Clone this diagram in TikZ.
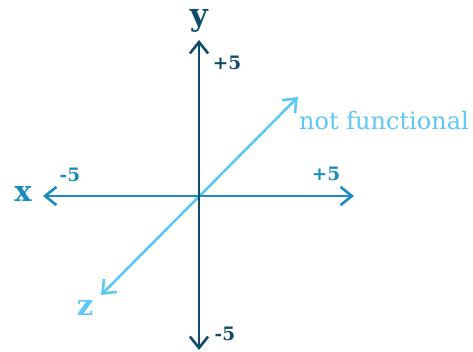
\documentclass[tikz,border=0pt]{standalone}
\usepackage{fontspec}
\setmainfont{DejaVu Serif}
\usetikzlibrary{positioning,arrows.meta}
\definecolor{ydark}{HTML}{0F4C69}
\definecolor{xmid}{HTML}{1A8CC0}
\definecolor{zlight}{HTML}{5CC8F6}
\tikzset{
  % --- axes ------------------------------------------------------------------
  axisline/.style={line width=2.6pt,
                   {Straight Barb[length=4mm,width=6.4mm]}-{Straight Barb[length=4mm,width=6.4mm]}},
  yaxis/.style={axisline,ydark},
  xaxis/.style={axisline,xmid},
  zaxis/.style={axisline,zlight},
  % --- labels ----------------------------------------------------------------
  axname/.style={inner sep=0pt,anchor=base,font=\fontsize{29}{29}\selectfont\bfseries},
  ticklab/.style={inner sep=0pt,anchor=base,font=\fontsize{18.5}{18.5}\selectfont\bfseries},
  notelab/.style={inner sep=0pt,anchor=base west,font=\fontsize{24}{24}\selectfont},
}
\begin{document}
\begin{tikzpicture}[x=1pt, y=-1pt]
  \useasboundingbox (0,0) rectangle (473,352);
  % axis ends
  \coordinate (o)     at (199,196);
  \coordinate (ytop)  at (199,40);
  \coordinate (ybot)  at (199,350);
  \coordinate (xleft) at (43,196);
  \coordinate (xright) at (354,196);
  \coordinate (zfar)  at (298,97);
  \coordinate (znear) at (101,295);

  \draw[zaxis] (znear) -- (zfar);
  \draw[xaxis] (xleft) -- (xright);
  \draw[yaxis] (ybot) -- (ytop);

  \node[axname,text=ydark,font=\fontsize{31}{31}\selectfont\bfseries] (ylab) at (199,26) {y};
  \node[axname,text=xmid]   (xlab) at (23,202)  {x};
  \node[axname,text=zlight] (zlab) at (85,315)  {z};

  \node[ticklab,text=ydark] (yplus)  at (227,70)  {+5};
  \node[ticklab,text=ydark] (yminus) at (225,340) {-5};
  \node[ticklab,text=xmid]  (xminus) at (70,182)  {-5};
  \node[ticklab,text=xmid]  (xplus)  at (326,181) {+5};
  \node[notelab,text=zlight] (note) at (299,130) {not functional};
\end{tikzpicture}
\end{document}
